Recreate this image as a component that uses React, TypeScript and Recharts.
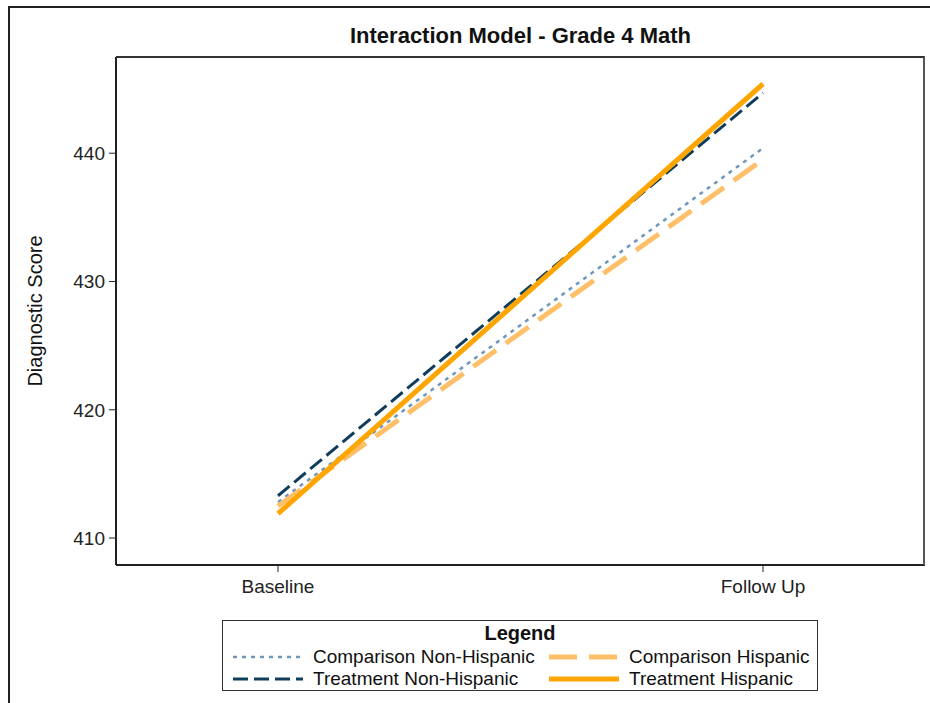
import { LineChart, Line, XAxis, YAxis } from "recharts";

const timePoints = ["Baseline", "Follow Up"];
const comparisonNonHispanic = [412.8, 440.4];
const treatmentNonHispanic = [413.3, 444.7];
const comparisonHispanic = [412.5, 439.5];
const treatmentHispanic = [411.9, 445.4];
const yTicks = [410, 420, 430, 440];

const FONT = '"Liberation Sans", Arial, sans-serif';

const series = [
  { key: "cnh", name: "Comparison Non-Hispanic", color: "#6f97bb", width: 2.5, dash: "4 5" },
  { key: "ch", name: "Comparison Hispanic", color: "#ffbf69", width: 5, dash: "28 12" },
  { key: "tnh", name: "Treatment Non-Hispanic", color: "#0f3d5a", width: 3, dash: "15 6" },
  { key: "th", name: "Treatment Hispanic", color: "#ffa500", width: 5, dash: undefined as string | undefined },
];

const data = timePoints.map((t, i) => ({
  time: t,
  cnh: comparisonNonHispanic[i],
  tnh: treatmentNonHispanic[i],
  ch: comparisonHispanic[i],
  th: treatmentHispanic[i],
}));

function YLabel() {
  return (
    <text
      x={42}
      y={311}
      transform="rotate(-90 42 311)"
      textAnchor="middle"
      fontFamily={FONT}
      fontSize={20}
      fill="#111"
    >
      Diagnostic Score
    </text>
  );
}

function LegendBox() {
  const item = (s: (typeof series)[number]) => (
    <div key={s.key} style={{ display: "flex", alignItems: "center", height: 22 }}>
      <svg width={74} height={10} style={{ marginRight: 8 }}>
        <line
          x1={2}
          y1={5}
          x2={72}
          y2={5}
          stroke={s.color}
          strokeWidth={s.width}
          strokeDasharray={s.dash}
        />
      </svg>
      <span>{s.name}</span>
    </div>
  );
  return (
    <div
      style={{
        position: "absolute",
        left: 222,
        top: 620,
        width: 596,
        height: 71,
        border: "1.5px solid #333",
        fontFamily: FONT,
        fontSize: 19,
        lineHeight: "22px",
        color: "#111",
        boxSizing: "border-box",
      }}
    >
      <div style={{ textAlign: "center", fontWeight: "bold", fontSize: 20, marginTop: 1, height: 24 }}>
        Legend
      </div>
      <div style={{ display: "flex", paddingLeft: 8 }}>
        <div style={{ width: 316 }}>
          {item(series[0])}
          {item(series[2])}
        </div>
        <div>
          {item(series[1])}
          {item(series[3])}
        </div>
      </div>
    </div>
  );
}

export default function App() {
  return (
    <div style={{ position: "absolute", left: 0, top: 0, width: 930, height: 703, background: "#fff", overflow: "hidden" }}>
      <div
        style={{
          position: "absolute",
          left: 8,
          top: 6,
          width: 940,
          height: 710,
          borderLeft: "2px solid #222",
          borderTop: "2px solid #222",
        }}
      />
      <div
        style={{
          position: "absolute",
          left: 116,
          width: 809,
          top: 23,
          textAlign: "center",
          fontFamily: FONT,
          fontWeight: "bold",
          fontSize: 22,
          color: "#111",
        }}
      >
        Interaction Model - Grade 4 Math
      </div>
      <div style={{ position: "absolute", left: 0, top: 0 }}>
        <LineChart
          width={930}
          height={703}
          data={data}
          margin={{ top: 57, right: 5, bottom: 108, left: 0 }}
        >
          <XAxis
            dataKey="time"
            type="category"
            padding={{ left: 162, right: 162 }}
            axisLine={{ stroke: "#222", strokeWidth: 2 }}
            tickLine={{ stroke: "#222" }}
            tickSize={7}
            tick={{ fill: "#222", fontSize: 19, fontFamily: FONT, dy: 6 }}
            height={30}
          />
          <YAxis
            domain={[407.9, 447.5]}
            ticks={yTicks}
            allowDataOverflow
            width={116}
            axisLine={{ stroke: "#222", strokeWidth: 2 }}
            tickLine={{ stroke: "#222" }}
            tickSize={7}
            tick={{ fill: "#222", fontSize: 19, fontFamily: FONT, dx: -2 }}
            label={<YLabel />}
          />
          {series.map((s) => (
            <Line
              key={s.key}
              dataKey={s.key}
              name={s.name}
              stroke={s.color}
              strokeWidth={s.width}
              strokeDasharray={s.dash}
              dot={false}
              activeDot={false}
              isAnimationActive={false}
            />
          ))}
        </LineChart>
      </div>
      <div
        style={{
          position: "absolute",
          left: 116,
          top: 56,
          width: 809,
          height: 509,
          borderTop: "2px solid #333",
          borderRight: "2px solid #555",
          boxSizing: "border-box",
          pointerEvents: "none",
        }}
      />
      <LegendBox />
    </div>
  );
}
